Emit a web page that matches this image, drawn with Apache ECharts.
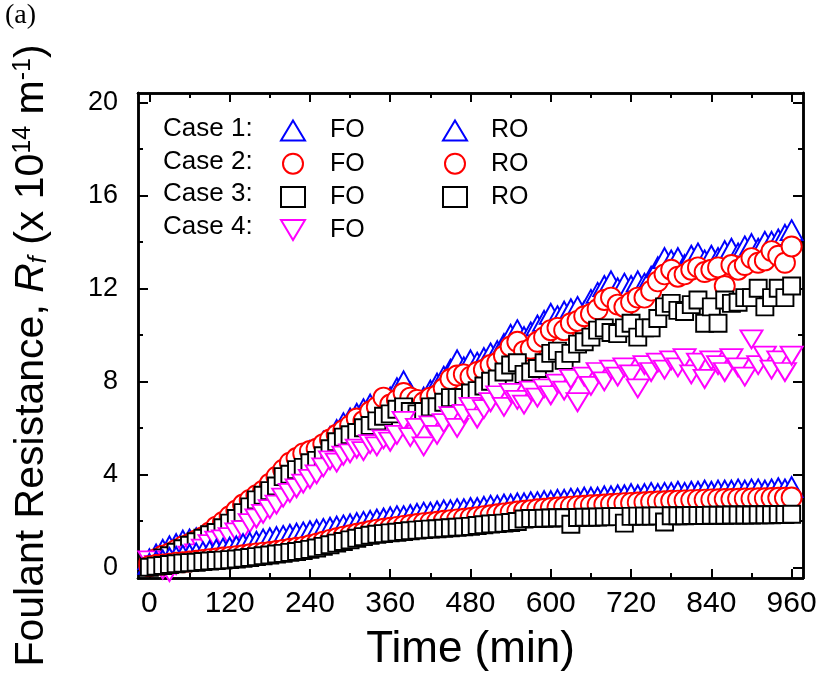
<!DOCTYPE html>
<html><head><meta charset="utf-8">
<script src="https://cdn.jsdelivr.net/npm/echarts@6/dist/echarts.min.js"></script>
<style>html,body{margin:0;padding:0;background:#fff}#c{width:821px;height:691px}</style>
</head><body><div id="c"></div>
<script>
// ---------- DATA ----------
const time = [0,10,20,30,40,50,60,70,80,90,100,110,120,130,140,150,160,170,180,190,200,210,220,230,240,250,260,270,280,290,300,310,320,330,340,350,360,370,380,390,400,410,420,430,440,450,460,470,480,490,500,510,520,530,540,550,560,570,580,590,600,610,620,630,640,650,660,670,680,690,700,710,720,730,740,750,760,770,780,790,800,810,820,830,840,850,860,870,880,890,900,910,920,930,940,950,960];

const case1FO = [0.35,0.55,0.75,0.9,1.0,1.15,1.2,1.25,1.3,1.45,
1.6,1.8,2.0,2.2,2.5,2.8,3.0,3.2,3.4,3.7,
3.9,4.1,4.4,4.7,5.0,5.1,5.4,5.6,5.9,6.2,
6.4,6.6,6.8,7.0,6.9,7.1,7.3,7.7,8.0,7.5,
7.1,7.3,7.6,7.9,8.2,8.5,8.9,8.6,8.9,8.8,
9.0,9.2,9.3,9.6,10.0,10.2,9.9,10.1,10.4,10.6,
10.9,10.8,11.0,11.1,11.2,11.0,11.5,11.8,12.1,12.3,
12.0,12.2,12.1,12.3,12.2,12.5,12.9,13.3,13.2,13.3,
13.0,13.4,13.5,13.2,13.4,13.3,13.6,13.7,13.5,13.8,
13.9,13.7,14.0,14.0,14.1,14.3,14.5];

const case2FO = [0.2,0.35,0.5,0.6,0.75,0.9,1.0,1.15,1.3,1.5,
1.75,1.95,2.2,2.45,2.7,2.9,3.1,3.3,3.6,3.9,
4.2,4.5,4.7,4.9,5.0,5.1,5.3,5.5,5.7,5.9,
6.1,6.4,6.3,6.7,6.9,7.3,7.0,7.2,7.5,7.3,
7.2,7.1,7.3,7.4,7.7,8.1,8.25,8.3,8.2,8.4,
8.5,8.7,8.8,9.1,9.5,9.7,9.3,9.4,9.7,9.9,
10.2,10.3,10.2,10.5,10.6,10.8,10.9,11.1,11.5,11.6,
11.3,11.2,11.4,11.6,11.6,11.9,12.3,12.6,12.8,12.5,
12.6,12.8,12.9,12.7,12.8,12.9,12.1,13.0,12.8,13.0,
13.3,13.1,13.2,13.6,13.4,13.1,13.8];

const case3FO = [0.1,0.25,0.4,0.5,0.65,0.8,0.95,1.1,1.25,1.4,
1.5,1.7,1.9,2.1,2.35,2.6,2.9,3.1,3.3,3.5,
3.9,4.0,4.2,4.3,4.5,4.6,4.8,5.1,5.4,5.6,
5.7,5.8,6.0,6.1,6.3,6.5,6.6,6.8,6.9,6.7,
6.6,6.7,6.9,6.9,7.1,7.3,7.3,7.3,7.5,7.6,
7.8,8.0,8.1,8.4,8.7,8.8,8.3,8.4,8.55,8.8,
9.2,9.3,8.9,9.2,9.6,9.7,9.9,10.2,10.3,10.1,
10.05,10.3,10.5,9.9,10.3,10.3,10.7,11.2,11.35,11.05,
11.0,11.3,11.5,10.5,11.2,10.5,11.5,11.35,11.4,11.6,
11.6,12.0,11.2,11.6,12.0,11.6,12.1];

const case4FO = [0.3,0.1,-0.1,-0.2,0.1,0.3,0.5,0.6,0.8,1.0,
1.15,1.2,1.3,1.5,1.6,1.9,2.1,2.3,2.5,2.7,
3.0,3.2,3.4,3.6,3.8,4.0,4.3,4.6,4.5,4.8,
4.9,5.1,5.0,5.3,5.2,5.5,5.4,5.7,6.3,5.6,
6.0,5.2,6.1,5.7,6.2,6.5,6.0,6.6,6.9,6.4,
6.8,7.1,7.4,6.9,7.5,7.2,7.0,7.6,7.3,7.7,
7.4,7.9,7.6,8.1,7.1,8.2,7.8,8.4,8.0,8.5,
8.2,8.6,8.3,7.7,8.7,8.4,8.8,8.5,8.9,8.6,
9.0,8.3,8.8,8.1,8.9,8.7,8.4,9.0,8.6,8.2,
9.8,8.7,9.1,8.5,8.9,8.4,9.1];

const case1RO = [0.15,0.25,0.3,0.4,0.45,0.5,0.55,0.6,0.65,0.7,
0.75,0.8,0.85,0.9,1.0,1.05,1.1,1.2,1.25,1.3,
1.35,1.4,1.45,1.5,1.55,1.6,1.65,1.7,1.75,1.8,
1.85,1.9,1.95,2.0,2.05,2.1,2.15,2.2,2.2,2.25,
2.3,2.35,2.35,2.4,2.45,2.45,2.5,2.5,2.55,2.55,
2.6,2.65,2.65,2.7,2.7,2.75,2.75,2.8,2.8,2.85,
2.85,2.9,2.9,2.95,2.95,3.0,3.0,3.0,3.05,3.05,
3.1,3.1,3.15,3.1,3.15,3.2,3.15,3.2,3.2,3.25,
3.2,3.25,3.25,3.3,3.25,3.3,3.3,3.3,3.35,3.3,
3.35,3.35,3.3,3.35,3.4,3.35,3.45];

const case2RO = [0.05,0.1,0.12,0.15,0.2,0.22,0.25,0.28,0.32,0.35,
0.38,0.42,0.45,0.48,0.52,0.56,0.6,0.63,0.66,0.7,
0.75,0.8,0.84,0.88,0.95,1.02,1.1,1.18,1.25,1.32,
1.38,1.44,1.5,1.56,1.62,1.66,1.7,1.74,1.78,1.82,
1.86,1.9,1.93,1.96,2.0,2.03,2.06,2.09,2.12,2.16,
2.2,2.24,2.28,2.32,2.36,2.4,2.43,2.46,2.5,2.52,
2.55,2.57,2.59,2.61,2.63,2.65,2.67,2.68,2.7,2.72,
2.74,2.76,2.77,2.79,2.8,2.82,2.83,2.84,2.86,2.87,
2.88,2.89,2.9,2.91,2.92,2.93,2.94,2.94,2.95,2.96,
2.96,2.97,2.97,2.98,2.99,2.99,3.0];

const case3RO = [0.0,0.05,0.08,0.12,0.15,0.18,0.2,0.22,0.25,0.27,
0.29,0.31,0.33,0.36,0.39,0.42,0.46,0.5,0.53,0.57,
0.6,0.64,0.68,0.72,0.77,0.83,0.9,0.97,1.04,1.11,
1.18,1.25,1.32,1.38,1.42,1.45,1.48,1.51,1.54,1.57,
1.6,1.62,1.64,1.66,1.68,1.7,1.72,1.74,1.76,1.8,
1.83,1.86,1.88,1.9,1.93,1.97,2.08,2.1,2.1,2.11,
2.12,2.13,2.13,1.85,2.14,2.15,2.15,2.16,2.17,2.18,
2.18,1.9,2.19,2.2,2.2,2.2,2.21,1.95,2.22,2.22,
2.22,2.23,2.23,2.23,2.24,2.24,2.24,2.25,2.25,2.25,
2.25,2.26,2.26,2.26,2.27,2.27,2.28];

const xMajor = [0,120,240,360,480,600,720,840,960];
const xMinor = [60,180,300,420,540,660,780,900];
const yMajor = [0,4,8,12,16,20];
const yMinor = [2,6,10,14,18];
const caseLabels = ['Case 1:','Case 2:','Case 3:','Case 4:'];

// ---------- CHART ----------
const FF = 'Liberation Sans, Arial, sans-serif';
const X_MIN = -17, X_MAX = 977, Y_MIN = -0.46, Y_MAX = 20.4;
const TRI_UP = 'path://M12,0L24,20L0,20Z';
const TRI_DN = 'path://M0,0L24,0L12,20Z';

function xAx(pos, ticks, len, withLabels) {
  const a = {
    type: 'value', min: X_MIN, max: X_MAX, position: pos,
    axisLine: {show: true, onZero: false, lineStyle: {color: '#000', width: 2.5}},
    axisTick: {show: true, inside: true, length: len, customValues: ticks, lineStyle: {color: '#000', width: 2}},
    axisLabel: {show: false},
    splitLine: {show: false}
  };
  if (withLabels) {
    a.axisLabel = {show: true, customValues: xMajor, fontSize: 30, color: '#000', fontFamily: FF, margin: 11};
    a.name = 'Time (min)';
    a.nameLocation = 'middle';
    a.nameGap = 50;
    a.nameTextStyle = {fontSize: 44, color: '#000', fontFamily: FF};
  }
  return a;
}
function yAx(pos, ticks, len, withLabels) {
  const a = {
    type: 'value', min: Y_MIN, max: Y_MAX, position: pos,
    axisLine: {show: true, onZero: false, lineStyle: {color: '#000', width: 2.5}},
    axisTick: {show: true, inside: true, length: len, customValues: ticks, lineStyle: {color: '#000', width: 2}},
    axisLabel: {show: false},
    splitLine: {show: false}
  };
  if (withLabels) {
    a.axisLabel = {show: true, customValues: yMajor, fontSize: 27, color: '#000', fontFamily: FF, margin: 20};
    a.name = '{n|Foulant Resistance, }{it|R}{sub|f}{n| (x 10}{sup|14}{n| m}{sup|-1}{n|)}';
    a.nameLocation = 'middle';
    a.nameRotate = 90;
    a.nameGap = 86;
    a.nameTextStyle = {
      color: '#000', fontFamily: FF, fontSize: 41, padding: [0, 40, 0, 0],
      rich: {
        n: {fontSize: 41, fontFamily: FF, color: '#000'},
        it: {fontSize: 41, fontFamily: FF, color: '#000', fontStyle: 'italic'},
        sub: {fontSize: 25, fontFamily: FF, color: '#000', fontStyle: 'italic', verticalAlign: 'bottom'},
        sup: {fontSize: 25, fontFamily: FF, color: '#000', verticalAlign: 'top'}
      }
    };
  }
  return a;
}
function sc(name, vals, symbol, size, color) {
  return {
    name, type: 'scatter', xAxisIndex: 0, yAxisIndex: 0,
    data: time.map((t, i) => [t, vals[i]]),
    symbol, symbolSize: size,
    itemStyle: {color: '#fff', borderColor: color, borderWidth: 1.9, opacity: 1},
    emphasis: {disabled: true}, silent: true, clip: false
  };
}

const chart = echarts.init(document.getElementById('c'), null, {renderer: 'canvas'});
const legendCommon = {
  orient: 'vertical', top: 113, itemWidth: 24, itemHeight: 20, itemGap: 8.2,
  selectedMode: false, symbolKeepAspect: true,
  textStyle: {fontSize: 25, color: '#000', fontFamily: FF, lineHeight: 20}
};
chart.setOption({
  animation: false,
  backgroundColor: '#fff',
  grid: {left: 138, right: 18, top: 93, bottom: 113, containLabel: false, outerBoundsMode: 'none'},
  xAxis: [xAx('bottom', xMajor, 9, true), xAx('bottom', xMinor, 5, false), xAx('top', xMajor, 9, false), xAx('top', xMinor, 5, false)],
  yAxis: [yAx('left', yMajor, 10, true), yAx('left', yMinor, 5, false), yAx('right', yMajor, 10, false), yAx('right', yMinor, 5, false)],
  legend: [
    Object.assign({}, legendCommon, {left: 275, data: ['Case 1 FO','Case 2 FO','Case 3 FO','Case 4 FO'], formatter: () => 'FO',
      textStyle: Object.assign({}, legendCommon.textStyle, {padding: [0, 0, 0, 20]})}),
    Object.assign({}, legendCommon, {left: 437, data: ['Case 1 RO','Case 2 RO','Case 3 RO'], formatter: () => 'RO',
      textStyle: Object.assign({}, legendCommon.textStyle, {padding: [0, 0, 0, 19]})})
  ],
  graphic: [
    {type: 'text', x: 5, y: 2, style: {text: '(a)', fontSize: 28, fontFamily: 'Liberation Serif, Times New Roman, serif', fill: '#000', verticalAlign: 'top'}}
  ].concat(caseLabels.map((s, i) => ({
    type: 'text', x: 163, y: 129 + i * 32.6,
    style: {text: s, fontSize: 26, fontFamily: FF, fill: '#000', verticalAlign: 'middle', align: 'left'}
  }))),
  series: [
    sc('Case 1 FO', case1FO, TRI_UP, [22, 20], '#0000ff'),
    sc('Case 2 FO', case2FO, 'circle', 20, '#ff0000'),
    sc('Case 3 FO', case3FO, 'rect', 17, '#000000'),
    sc('Case 4 FO', case4FO, TRI_DN, [22, 18], '#ff00ff'),
    sc('Case 1 RO', case1RO, TRI_UP, [22, 20], '#0000ff'),
    sc('Case 2 RO', case2RO, 'circle', 20, '#ff0000'),
    sc('Case 3 RO', case3RO, 'rect', 17, '#000000')
  ]
});
</script>
</body></html>
